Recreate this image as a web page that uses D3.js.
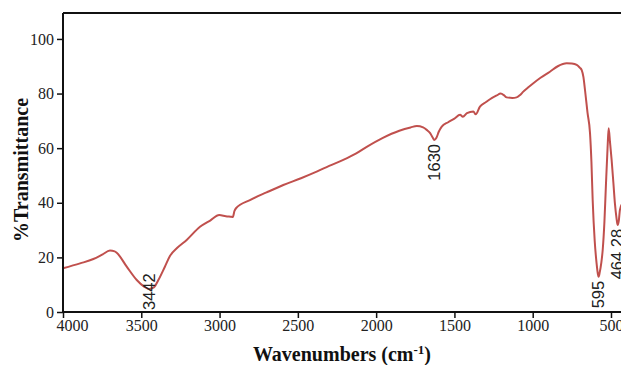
<!DOCTYPE html>
<html>
<head>
<meta charset="utf-8">
<script src="https://cdn.jsdelivr.net/npm/d3@7"></script>
<style>
  html, body { margin: 0; padding: 0; background: #fff; overflow: hidden; }
  svg { display: block; }
</style>
</head>
<body>
<svg id="chart" width="621" height="365"></svg>
<script>
// ---- data ----
const wavenumbers = [4000, 3891, 3806, 3750, 3700, 3670, 3657, 3593, 3529, 3480, 3449, 3420, 3391, 3350, 3317, 3270, 3210, 3125, 3060, 3002, 2960, 2930, 2915, 2905, 2895, 2806, 2700, 2593, 2480, 2380, 2300, 2210, 2130, 2060, 1960, 1852, 1780, 1740, 1700, 1677, 1655, 1640, 1628, 1615, 1600, 1581, 1540, 1500, 1464, 1446, 1420, 1379, 1364, 1337, 1300, 1273, 1230, 1205, 1180, 1167, 1130, 1103, 1080, 1060, 1030, 996, 950, 890, 840, 783, 750, 719, 700, 687, 676, 666, 650, 634, 625, 617, 604, 592, 584, 579, 572, 562, 553, 542, 532, 522, 515, 506, 496, 485, 475, 465, 458, 450, 443, 430, 420];
const transmittance = [16.0, 17.8, 19.4, 21.0, 22.5, 22.2, 21.7, 16.6, 11.7, 9.2, 8.4, 9.0, 11.7, 16.5, 20.5, 23.5, 26.4, 31.2, 33.5, 35.5, 35.1, 34.9, 34.8, 37.0, 38.0, 41.0, 43.8, 46.5, 49.0, 51.4, 53.5, 55.7, 58.0, 60.5, 63.7, 66.4, 67.6, 68.1, 67.6, 66.7, 65.5, 64.0, 63.0, 63.8, 66.0, 67.9, 69.5, 70.8, 72.2, 71.5, 72.8, 73.4, 72.4, 75.2, 76.8, 77.9, 79.3, 80.0, 79.2, 78.6, 78.4, 78.6, 79.5, 80.7, 82.2, 83.8, 85.8, 88.0, 90.0, 91.1, 91.0, 90.5, 89.5, 88.6, 86.0, 81.3, 73.0, 65.5, 55.0, 41.0, 26.0, 17.8, 14.0, 12.9, 14.5, 18.0, 22.7, 33.0, 47.0, 60.0, 67.3, 62.0, 55.7, 47.5, 39.8, 34.5, 31.9, 33.5, 37.4, 39.5, 40.0];
const xTicks = [4000, 3500, 3000, 2500, 2000, 1500, 1000, 500];
const yTicks = [0, 20, 40, 60, 80, 100];
const peakWavenumbers = [3442, 1630, 595, 464.28];
const peakLabels = ["3442", "1630", "595", "464.28"];
const xTitle = "Wavenumbers (cm";
const xTitleSup = "-1";
const yTitle = "%Transmittance";

// ---- layout ----
const svg = d3.select("#chart");
const mLeft = 63, mTop = 13, mBottom = 312;
const x = d3.scaleLinear().domain([4000, 400]).range([mLeft, mLeft + 3600 * 0.15657]);
const y = d3.scaleLinear().domain([0, 109.5]).range([mBottom, mTop]);

const lineColor = "#c0504d";
const serif = "'Liberation Serif','Times New Roman',Times,serif";
const sans = "'Liberation Sans',Arial,Helvetica,sans-serif";

// frame: top border
svg.append("line")
  .attr("x1", mLeft).attr("x2", 640).attr("y1", mTop).attr("y2", mTop)
  .attr("stroke", "#111").attr("stroke-width", 2);

// spectrum line
const pts = wavenumbers.map((w, i) => [w, transmittance[i]]);
svg.append("path")
  .datum(pts)
  .attr("fill", "none")
  .attr("stroke", lineColor)
  .attr("stroke-width", 2)
  .attr("stroke-linejoin", "round")
  .attr("d", d3.line().x(d => x(d[0])).y(d => y(d[1])).curve(d3.curveMonotoneX));

// axes
const xAxis = svg.append("g")
  .attr("transform", `translate(0,${mBottom})`)
  .call(d3.axisBottom(x).tickValues(xTicks).tickSize(6).tickPadding(2).tickFormat(d3.format("d")));
xAxis.attr("font-family", null).attr("font-size", null);
xAxis.select(".domain").attr("d", `M${mLeft},0H640`).attr("stroke", "#111").attr("stroke-width", 2);
xAxis.selectAll(".tick line").attr("stroke", "#111").attr("stroke-width", 1.5);
xAxis.selectAll(".tick text")
  .style("font-family", serif).style("font-size", "16px").attr("fill", "#222")
  .attr("dx", d => d === 4000 ? 9 : 0);

const yAxis = svg.append("g")
  .attr("transform", `translate(${mLeft},0)`)
  .call(d3.axisLeft(y).tickValues(yTicks).tickSize(6).tickPadding(3));
yAxis.attr("font-family", null).attr("font-size", null);
yAxis.select(".domain").attr("d", `M0,${mTop}V${mBottom}`).attr("stroke", "#111").attr("stroke-width", 2);
yAxis.selectAll(".tick line").attr("stroke", "#111").attr("stroke-width", 1.5);
yAxis.selectAll(".tick text")
  .style("font-family", serif).style("font-size", "16px").attr("fill", "#222");
svg.selectAll(".domain").attr("fill", "none");

// peak labels: placed just below the local minimum of the curve
const labelSize = 16.5;
peakWavenumbers.forEach((w, i) => {
  const near = pts.filter(p => Math.abs(p[0] - w) <= 25);
  const m = near.reduce((a, b) => (b[1] < a[1] ? b : a));
  const px = x(m[0]);
  let endY = y(m[1]) + 4;
  const t = svg.append("text")
    .style("font-family", sans).style("font-size", labelSize + "px").attr("fill", "#222")
    .attr("text-anchor", "end")
    .attr("dy", "0.35em")
    .text(peakLabels[i]);
  const len = t.node().getComputedTextLength();
  if (endY + len > mBottom - 2) endY = mBottom - 2 - len;
  t.attr("transform", `translate(${px},${endY}) rotate(-90)`);
});

// axis titles
const xt = svg.append("text")
  .attr("x", 342).attr("y", 361)
  .attr("text-anchor", "middle")
  .style("font-family", serif).style("font-size", "20px").attr("font-weight", "bold").attr("fill", "#111");
xt.append("tspan").text(xTitle);
xt.append("tspan").attr("dy", -7).style("font-size", "13px").text(xTitleSup);
xt.append("tspan").attr("dy", 7).text(")");

svg.append("text")
  .attr("transform", "translate(28,170) rotate(-90)")
  .attr("text-anchor", "middle")
  .style("font-family", serif).style("font-size", "20px").attr("font-weight", "bold").attr("fill", "#111")
  .text(yTitle);
</script>
</body>
</html>
